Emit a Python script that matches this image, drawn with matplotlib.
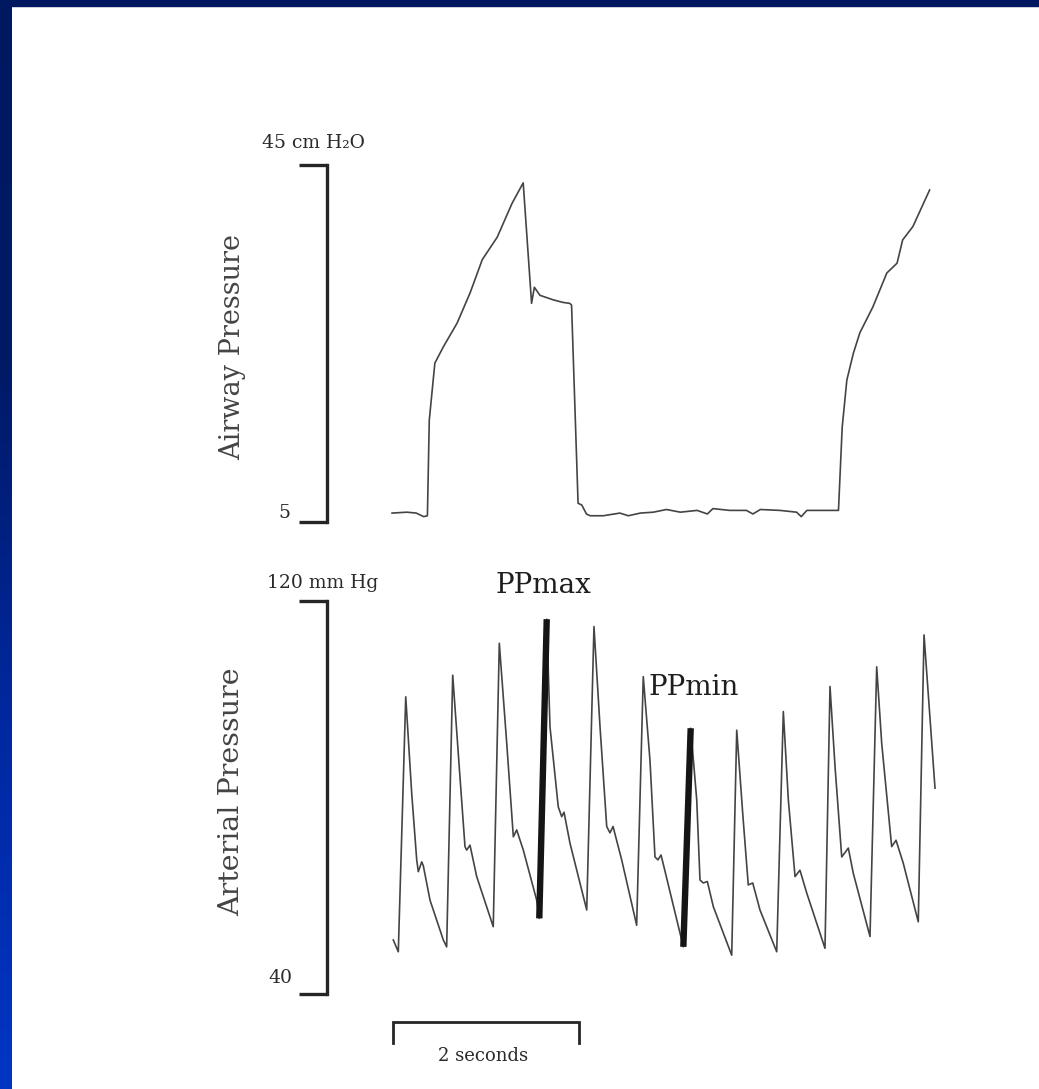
import numpy as np
import matplotlib
matplotlib.use("Agg")
import matplotlib.pyplot as plt
from matplotlib.colors import LinearSegmentedColormap
from matplotlib.patches import Rectangle

# ---------------- data ----------------
# Airway pressure (cm H2O) vs time (s)
t_aw = [-0.01, 0.15, 0.25, 0.33, 0.37, 0.39, 0.45, 0.54, 0.69, 0.83, 0.96, 1.12,
        1.28, 1.40, 1.49, 1.52, 1.58, 1.72, 1.83, 1.90, 1.92, 1.99, 2.03, 2.08,
        2.12, 2.26, 2.44, 2.53, 2.66, 2.80, 2.94, 3.09, 3.27, 3.38, 3.44, 3.62,
        3.80, 3.87, 3.95, 4.16, 4.34, 4.39, 4.45, 4.79, 4.83, 4.88, 4.95, 5.02,
        5.16, 5.31, 5.42, 5.48, 5.59, 5.77]
p_aw = [6.0, 6.1, 6.0, 5.6, 5.7, 16.4, 22.8, 24.6, 27.3, 30.7, 34.4, 36.9,
        40.7, 43.0, 29.5, 31.3, 30.4, 29.9, 29.6, 29.5, 29.3, 7.1, 6.9, 5.9,
        5.7, 5.7, 6.0, 5.7, 6.0, 6.1, 6.4, 6.1, 6.3, 5.9, 6.5, 6.3,
        6.3, 5.9, 6.4, 6.3, 6.1, 5.6, 6.3, 6.3, 15.6, 20.9, 23.9, 26.2,
        29.1, 32.9, 34.0, 36.6, 38.1, 42.2]

# Arterial pressure (mm Hg) vs time (s)
t_art = [0.003, 0.057, 0.137, 0.201, 0.255, 0.272, 0.309, 0.326, 0.398, 0.541, 0.577,
         0.642, 0.720, 0.774, 0.792, 0.828, 0.900, 1.078,
         1.143, 1.223, 1.294, 1.330, 1.401, 1.545, 1.573,
         1.653, 1.688, 1.777, 1.814, 1.839, 1.903, 2.083,
         2.161, 2.226, 2.298, 2.333, 2.366, 2.459, 2.620,
         2.691, 2.763, 2.817, 2.849, 2.882, 2.935, 3.086, 3.122,
         3.201, 3.266, 3.301, 3.337, 3.380, 3.444, 3.642,
         3.696, 3.763, 3.820, 3.868, 3.946, 4.126,
         4.197, 4.251, 4.323, 4.376, 4.448, 4.645,
         4.699, 4.753, 4.825, 4.896, 4.949, 5.129,
         5.201, 5.255, 5.362, 5.409, 5.487, 5.648,
         5.710, 5.828]
p_art = [51.0, 48.6, 100.5, 80.9, 67.3, 64.9, 66.9, 66.1, 59.1, 51.0, 49.6,
         104.9, 84.2, 70.0, 69.3, 70.3, 63.9, 53.7,
         111.4, 91.0, 72.0, 73.4, 69.3, 59.1, 55.4,
         116.3, 94.4, 78.1, 76.1, 77.0, 70.7, 57.1,
         114.8, 94.4, 74.1, 72.8, 74.1, 67.3, 54.0,
         104.6, 87.6, 67.9, 67.3, 68.3, 64.2, 52.4, 49.6,
         94.1, 79.5, 63.2, 62.6, 62.9, 57.8, 47.9,
         93.7, 76.1, 62.2, 62.6, 57.1, 48.6,
         97.5, 79.5, 63.9, 65.2, 60.6, 49.3,
         102.6, 86.3, 67.9, 69.7, 64.6, 51.7,
         106.6, 91.0, 70.0, 71.3, 66.6, 54.7,
         113.1, 81.9]

pp_max_peak_time = 1.653
pp_min_peak_time = 3.201

airway_scale = [5, 45]
arterial_scale = [40, 120]
time_bar_seconds = 2

assert len(t_aw) == len(p_aw)
assert len(t_art) == len(p_art)

# ---------------- figure ----------------
W, H = 1039, 1089
fig = plt.figure(figsize=(W / 100, H / 100), dpi=100)
fig.patch.set_facecolor('white')

# blue slide frame (top + left strip)
bg = fig.add_axes([0, 0, 1, 1], zorder=-10)
grad = np.linspace(0, 1, 256).reshape(-1, 1)
cmap = LinearSegmentedColormap.from_list('frame', ['#001860', '#001a66', '#0028a0', '#0035c4'])
bg.imshow(grad, cmap=cmap, extent=[0, 12, H, 0], aspect='auto', interpolation='bilinear')
bg.add_patch(Rectangle((0, 0), W, 6, color='#001860'))
bg.set_xlim(0, W)
bg.set_ylim(H, 0)
bg.axis('off')

PX_PER_S = 93.0
X_LEFT, X_RIGHT, T0_PX = 327, 945, 393
xlim = ((X_LEFT - T0_PX) / PX_PER_S, (X_RIGHT - T0_PX) / PX_PER_S)


def rect(x0, y0, x1, y1):
    return [x0 / W, 1 - y1 / H, (x1 - x0) / W, (y1 - y0) / H]


SERIF = ['DejaVu Serif', 'DejaVu Sans']
TXT = '#2a2a2a'
LINE = '#444444'
BRACKET = '#262626'


def style_axis(ax, scale):
    ax.set_xlim(*xlim)
    ax.set_ylim(*scale)
    for s in ['top', 'right', 'bottom']:
        ax.spines[s].set_visible(False)
    ax.spines['left'].set_linewidth(2.4)
    ax.spines['left'].set_color(BRACKET)
    ax.set_xticks([])
    ax.set_yticks(scale)
    ax.set_yticklabels(['', ''])
    ax.tick_params(axis='y', direction='out', length=20, width=2.4, color=BRACKET)
    ax.patch.set_alpha(0)


# ---- Airway pressure ----
ax1 = fig.add_axes(rect(X_LEFT, 165, X_RIGHT, 522))
style_axis(ax1, airway_scale)
ax1.plot(t_aw, p_aw, color=LINE, lw=1.2, clip_on=False)
ax1.annotate('45 cm H\u2082O', xy=(0, airway_scale[1]), xycoords=('axes fraction', 'data'),
             xytext=(-14, 17), textcoords='offset pixels', ha='center', va='baseline',
             fontsize=13.5, family=SERIF, color=TXT)
ax1.annotate(str(airway_scale[0]), xy=(0, airway_scale[0]), xycoords=('axes fraction', 'data'),
             xytext=(-43, 4), textcoords='offset pixels', ha='center', va='baseline',
             fontsize=13.5, family=SERIF, color=TXT)
ax1.text(-0.152, 0.49, 'Airway Pressure', transform=ax1.transAxes, rotation=90,
         ha='center', va='center', fontsize=19.5, family=SERIF, color='#444444')

# ---- Arterial pressure ----
ax2 = fig.add_axes(rect(X_LEFT, 601, X_RIGHT, 994))
style_axis(ax2, arterial_scale)
ax2.plot(t_art, p_art, color=LINE, lw=1.2, clip_on=False)

t_art_a = np.array(t_art)
p_art_a = np.array(p_art)
for pk_time in (pp_max_peak_time, pp_min_peak_time):
    i = int(np.argmin(np.abs(t_art_a - pk_time)))
    ax2.plot(t_art_a[i - 1:i + 1], p_art_a[i - 1:i + 1], color='#151515', lw=4.6,
             solid_capstyle='butt', clip_on=False)

i_max = int(np.argmin(np.abs(t_art_a - pp_max_peak_time)))
i_min = int(np.argmin(np.abs(t_art_a - pp_min_peak_time)))
ax2.annotate('PPmax', xy=(t_art_a[i_max], p_art_a[i_max]), xytext=(-3, 26),
             textcoords='offset pixels', ha='center', va='baseline',
             fontsize=20, family=SERIF, color='#1e1e1e', annotation_clip=False)
ax2.annotate('PPmin', xy=(t_art_a[i_min], p_art_a[i_min]), xytext=(-42, 33),
             textcoords='offset pixels', ha='left', va='baseline',
             fontsize=20, family=SERIF, color='#1e1e1e', annotation_clip=False)

ax2.annotate('120 mm Hg', xy=(0, arterial_scale[1]), xycoords=('axes fraction', 'data'),
             xytext=(-4, 13), textcoords='offset pixels', ha='center', va='baseline',
             fontsize=13.5, family=SERIF, color=TXT)
ax2.annotate(str(arterial_scale[0]), xy=(0, arterial_scale[0]), xycoords=('axes fraction', 'data'),
             xytext=(-47, 11), textcoords='offset pixels', ha='center', va='baseline',
             fontsize=13.5, family=SERIF, color=TXT)
ax2.text(-0.154, 0.514, 'Arterial Pressure', transform=ax2.transAxes, rotation=90,
         ha='center', va='center', fontsize=20.5, family=SERIF, color='#444444')

# ---- time scale bar ----
mm_per_px = (arterial_scale[1] - arterial_scale[0]) / (994 - 601)
bar_y = arterial_scale[0] - 28 * mm_per_px
tick_y = arterial_scale[0] - 49 * mm_per_px
ax2.plot([0, 0, time_bar_seconds, time_bar_seconds], [tick_y, bar_y, bar_y, tick_y],
         color=BRACKET, lw=2.0, clip_on=False, solid_joinstyle='miter')
ax2.annotate(f'{time_bar_seconds} seconds', xy=(time_bar_seconds / 2, bar_y),
             xytext=(-3, -39), textcoords='offset pixels', ha='center', va='baseline',
             fontsize=13, family=SERIF, color=TXT, annotation_clip=False)

fig.savefig('out.png', dpi=100, facecolor='white')
